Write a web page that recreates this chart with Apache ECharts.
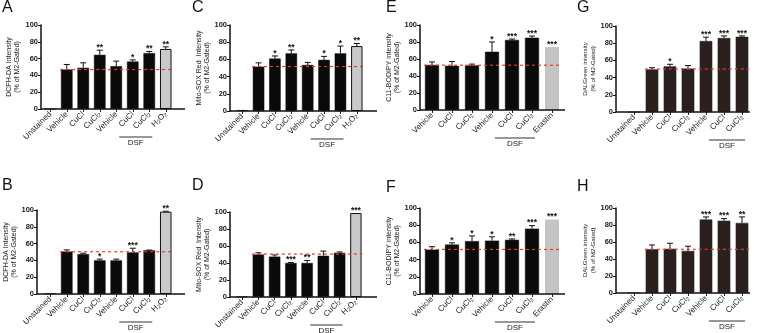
<!DOCTYPE html>
<html lang="en">
<head>
<meta charset="utf-8" />
<script type="text/javascript" src="https://cdn.jsdelivr.net/npm/echarts@6.0.0/dist/echarts.min.js"></script>
<style>
  html, body { margin: 0; padding: 0; background: #fff; }
  #main { width: 757px; height: 333px; }
</style>
</head>
<body>
<div id="main"></div>
<script type="text/javascript">
// categories
var catsAD = ['Unstained', 'Vehicle', 'CuCl', 'CuCl2', 'Vehicle', 'CuCl', 'CuCl2', 'H2O2'];
var catsEF = ['Vehicle', 'CuCl', 'CuCl2', 'Vehicle', 'CuCl', 'CuCl2', 'Erastin'];
var catsGH = ['Unstained', 'Vehicle', 'CuCl', 'CuCl2', 'Vehicle', 'CuCl', 'CuCl2'];

// means, upper error bar ends, significance marks, dashed reference (vehicle) level
var valA = [0, 47, 49, 64.5, 51, 56.5, 66.5, 71.5];
var errA = [0, 53, 55, 70, 57, 58.5, 68.5, 74];
var sigA = ['', '', '', '**', '', '*', '**', '**'];
var refA = 47;

var valB = [0.5, 50.5, 47.5, 40, 40, 49.5, 52, 98];
var errB = [0.5, 52.5, 48.5, 41.5, 41.5, 54.5, 52.3, 98.5];
var sigB = ['', '', '', '*', '', '***', '', '**'];
var refB = 50.3;

var valC = [1, 51.5, 61, 67, 53.5, 59.5, 67, 75.5];
var errC = [1, 56, 64, 71, 56.5, 63.5, 75.5, 78.5];
var sigC = ['', '', '*', '**', '', '*', '*', '**'];
var refC = 51.7;

var valD = [0.5, 50, 47.5, 40, 40, 48.5, 52, 98.8];
var errD = [0.5, 52, 49.5, 40.5, 43, 54, 53, 99];
var sigD = ['', '', '', '***', '**', '', '', '***'];
var refD = 50.5;

var valE = [53, 52, 52.5, 68.5, 82.5, 85, 74];
var errE = [56.5, 57, 54, 80, 83.5, 87, 74];
var sigE = ['', '', '', '*', '***', '***', '***'];
var refE = 52.7;

var valF = [51.5, 57.5, 61.5, 62, 63, 76, 86.5];
var errF = [55, 59.5, 67.5, 66.5, 64, 79.5, 86.5];
var sigF = ['', '*', '*', '*', '**', '***', '***'];
var refF = 51.8;

var valG = [0, 49.5, 53, 50.5, 82.5, 86, 87.5];
var errG = [0, 51.5, 55.5, 54, 87, 88.5, 88.5];
var sigG = ['', '', '*', '', '***', '***', '***'];
var refG = 50;

var valH = [0, 51.5, 52, 49.5, 86.5, 85, 82.5];
var errH = [0, 56.5, 58.5, 55, 89.5, 87.5, 89.5];
var sigH = ['', '', '', '', '***', '***', '**'];
var refH = 51.4;

var yTicks = [0, 20, 40, 60, 80, 100];

var nameDCFH = 'DCFH-DA Intensity\n(% of M2-Gated)';
var nameMito = 'Mito-SOX Red  Intensity\n(% of M2-Gated)';
var nameC11 = 'C11-BODIPY intensity\n(% of M2-Gated)';
var nameDAL = 'DALGreen intensity\n(% of M2-Gated)';

var FONT = '"Liberation Sans", Arial, sans-serif';

var panels = [
  { key: 'A', cats: catsAD, val: valA, err: errA, sig: sigA, ref: refA, refStart: 1, name: nameDCFH, dsf: [4, 6], barColor: '#0a0a0a',
    grid: { left: 42, top: 25, width: 132, height: 84 }, yOff: 1, end: 185, gap: 20, nameSize: 7, letter: [2, 0] },
  { key: 'B', cats: catsAD, val: valB, err: errB, sig: sigB, ref: refB, refStart: 1, name: nameDCFH, dsf: [4, 6], barColor: '#0a0a0a',
    grid: { left: 42, top: 210, width: 132, height: 84 }, yOff: 5, end: 185, gap: 18, nameSize: 7, letter: [2, 178] },
  { key: 'C', cats: catsAD, val: valC, err: errC, sig: sigC, ref: refC, refStart: 1, name: nameMito, dsf: [4, 6], barColor: '#0a0a0a',
    grid: { left: 234, top: 25, width: 131, height: 86 }, yOff: 4, end: 377, gap: 16, nameSize: 7, letter: [192, 0] },
  { key: 'D', cats: catsAD, val: valD, err: errD, sig: sigD, ref: refD, refStart: 1, name: nameMito, dsf: [4, 6], barColor: '#0a0a0a',
    grid: { left: 234, top: 212, width: 130, height: 85 }, yOff: 4, end: 377, gap: 17, nameSize: 7, letter: [192, 178] },
  { key: 'E', cats: catsEF, val: valE, err: errE, sig: sigE, ref: refE, refStart: 0, name: nameC11, dsf: [3, 5], barColor: '#0a0a0a',
    grid: { left: 422, top: 25, width: 140, height: 85 }, yOff: 2, end: 565, gap: 10, nameSize: 7, letter: [386, 0] },
  { key: 'F', cats: catsEF, val: valF, err: errF, sig: sigF, ref: refF, refStart: 0, name: nameC11, dsf: [3, 5], barColor: '#0a0a0a',
    grid: { left: 422, top: 208, width: 140, height: 86 }, yOff: 2, end: 565, gap: 10, nameSize: 7, letter: [386, 180] },
  { key: 'G', cats: catsGH, val: valG, err: errG, sig: sigG, ref: refG, refStart: 1, name: nameDAL, dsf: [4, 6], barColor: '#2a211e',
    grid: { left: 625, top: 26, width: 126, height: 86 }, yOff: 9, end: 750, gap: 8, nameSize: 6.2, letter: [577, 0] },
  { key: 'H', cats: catsGH, val: valH, err: errH, sig: sigH, ref: refH, refStart: 1, name: nameDAL, dsf: [4, 6], barColor: '#2a211e',
    grid: { left: 625, top: 208, width: 126, height: 85 }, yOff: 9, end: 750, gap: 8, nameSize: 6.2, letter: [577, 179] }
];

function fmtCat(v) {
  return v.replace(/(\d)/g, '{s|$1}');
}

var grids = [], xAxes = [], yAxes = [], series = [], graphics = [];

panels.forEach(function (p, gi) {
  grids.push(Object.assign({ outerBoundsMode: 'none', containLabel: false }, p.grid));
  xAxes.push({
    type: 'category', gridIndex: gi, data: p.cats,
    axisLine: { show: false },
    axisTick: { show: true, alignWithLabel: true, length: 3, lineStyle: { color: '#222', width: 1 } },
    axisLabel: {
      rotate: 45, interval: 0, margin: 4, fontSize: 8, color: '#1a1a1a', fontFamily: FONT,
      formatter: fmtCat,
      rich: { s: { fontSize: 5.5, verticalAlign: 'bottom', padding: [3, 0, 0, 0], fontFamily: FONT, color: '#1a1a1a' } }
    }
  });
  yAxes.push({
    type: 'value', gridIndex: gi, min: 0, max: 100, interval: 20, offset: p.yOff,
    name: p.name, nameLocation: 'middle', nameRotate: 90, nameGap: p.gap,
    nameTextStyle: { fontSize: p.nameSize, lineHeight: p.nameSize + 1, color: '#222', fontFamily: FONT, align: 'center' },
    axisLine: { show: true, lineStyle: { color: '#111', width: 1.5 } },
    axisTick: { show: true, length: 3, lineStyle: { color: '#111', width: 1 } },
    axisLabel: { fontSize: 7.5, color: '#1a1a1a', margin: 3, fontWeight: 'bold', fontFamily: FONT,
      formatter: function (v) { return yTicks.indexOf(v) >= 0 ? String(v) : ''; } },
    splitLine: { show: false }
  });

  // bars
  series.push({
    type: 'bar', xAxisIndex: gi, yAxisIndex: gi, barWidth: '70%', silent: true,
    data: p.val.map(function (v, i) {
      var c = p.cats[i];
      if (c === 'H2O2') return { value: v, itemStyle: { color: '#c9c9c9', borderColor: '#111', borderWidth: 1 } };
      if (c === 'Erastin') return { value: v, itemStyle: { color: '#c4c4c4' } };
      return { value: v, itemStyle: { color: p.barColor, borderColor: p.barColor, borderWidth: 0.5 } };
    })
  });

  // error bars + significance marks
  series.push({
    type: 'custom', xAxisIndex: gi, yAxisIndex: gi, silent: true, z: 3,
    data: p.val.map(function (v, i) { return [i, v, p.err[i]]; }),
    renderItem: function (params, api) {
      var i = api.value(0), v = api.value(1), e = api.value(2);
      var p0 = api.coord([i, v]), p1 = api.coord([i, e]);
      var kids = [];
      if (e > v + 0.2) {
        kids.push({ type: 'line', shape: { x1: p0[0], y1: p0[1], x2: p1[0], y2: p1[1] }, style: { stroke: '#111', lineWidth: 1 } });
        kids.push({ type: 'line', shape: { x1: p1[0] - 3, y1: p1[1], x2: p1[0] + 3, y2: p1[1] }, style: { stroke: '#111', lineWidth: 1 } });
      }
      var s = p.sig[params.dataIndex];
      if (s) {
        kids.push({ type: 'text', style: { text: s, x: p1[0], y: p1[1] + 2, textAlign: 'center', textVerticalAlign: 'bottom',
          fontSize: 8.5, fontWeight: 'bold', fill: '#111', fontFamily: FONT } });
      }
      return { type: 'group', children: kids };
    }
  });

  // dashed reference line
  series.push({
    type: 'custom', xAxisIndex: gi, yAxisIndex: gi, silent: true, z: 4,
    data: [[p.refStart, p.ref]],
    renderItem: function (params, api) {
      var band = api.size([1, 0])[0];
      var a = api.coord([api.value(0), api.value(1)]);
      var b = api.coord([p.cats.length - 1, api.value(1)]);
      return { type: 'line', shape: { x1: a[0] - band * 0.4, y1: a[1], x2: b[0] + band * 0.4, y2: b[1] },
        style: { stroke: '#e8352e', lineWidth: 1.2, lineDash: [3, 3] } };
    }
  });

  // baseline and DSF bracket
  series.push({
    type: 'custom', xAxisIndex: gi, yAxisIndex: gi, silent: true, z: 5, clip: false,
    data: [[0, 0]],
    renderItem: function (params, api) {
      var band = api.size([1, 0])[0];
      var y = api.coord([0, 0])[1];
      var x0 = api.coord([0, 0])[0] - band / 2 - p.yOff;
      var a = api.coord([p.dsf[0], 0])[0] + 3;
      var b = api.coord([p.dsf[1], 0])[0] + 3;
      return { type: 'group', children: [
        { type: 'line', shape: { x1: x0, y1: y, x2: p.end, y2: y }, style: { stroke: '#111', lineWidth: 1.5 } },
        { type: 'line', shape: { x1: a, y1: y + 28, x2: b, y2: y + 28 }, style: { stroke: '#333', lineWidth: 1 } },
        { type: 'text', style: { text: 'DSF', x: (a + b) / 2, y: y + 30, textAlign: 'center', textVerticalAlign: 'top',
          fontSize: 8, fill: '#1a1a1a', fontFamily: FONT } }
      ] };
    }
  });

  graphics.push({ type: 'text', left: p.letter[0], top: p.letter[1],
    style: { text: p.key, fontSize: 16, fill: '#111', fontFamily: FONT } });
});

var chart = echarts.init(document.getElementById('main'), null, { renderer: 'canvas' });
chart.setOption({
  animation: false,
  backgroundColor: '#fff',
  textStyle: { fontFamily: FONT },
  grid: grids,
  xAxis: xAxes,
  yAxis: yAxes,
  series: series,
  graphic: graphics
});
</script>
</body>
</html>
